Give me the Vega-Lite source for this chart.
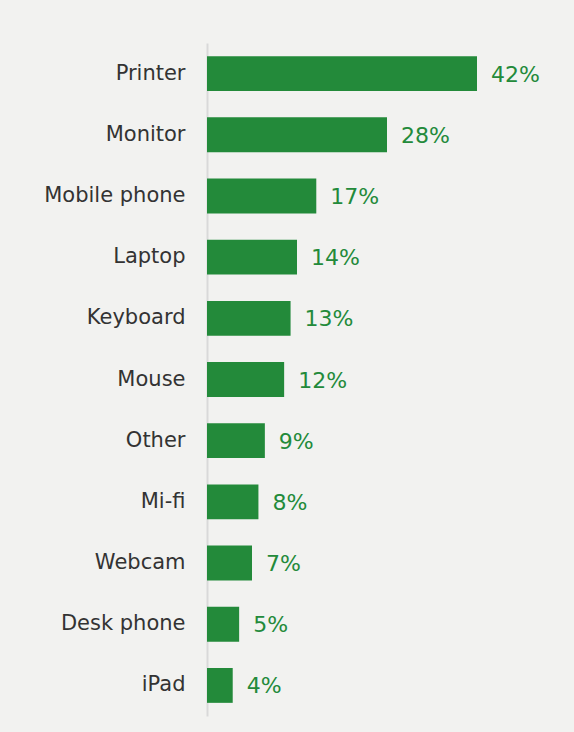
{
  "$schema": "https://vega.github.io/schema/vega-lite/v6.json",
  "autosize": {"type": "none"},
  "width": 360,
  "height": 673,
  "padding": {"left": 207, "top": 43, "right": 7, "bottom": 16},
  "background": "#f2f2f0",
  "config": {"view": {"stroke": null}},
  "data": {
    "values": [
      {"device": "Printer", "share": 0.42},
      {"device": "Monitor", "share": 0.28},
      {"device": "Mobile phone", "share": 0.17},
      {"device": "Laptop", "share": 0.14},
      {"device": "Keyboard", "share": 0.13},
      {"device": "Mouse", "share": 0.12},
      {"device": "Other", "share": 0.09},
      {"device": "Mi-fi", "share": 0.08},
      {"device": "Webcam", "share": 0.07},
      {"device": "Desk phone", "share": 0.05},
      {"device": "iPad", "share": 0.04}
    ]
  },
  "encoding": {
    "y": {
      "field": "device",
      "type": "nominal",
      "sort": null,
      "scale": {"paddingInner": 0.43, "paddingOuter": 0.215},
      "axis": {
        "title": null,
        "ticks": false,
        "domainColor": "#d9d9d9",
        "domainWidth": 2,
        "labelPadding": 22,
        "labelFont": "DejaVu Sans",
        "labelFontSize": 21,
        "labelColor": "#333333",
        "labelLimit": 300
      }
    },
    "x": {
      "field": "share",
      "type": "quantitative",
      "scale": {"domain": [0, 0.56]},
      "axis": null
    }
  },
  "layer": [
    {"mark": {"type": "bar", "color": "#238a3a"}},
    {
      "mark": {"type": "text", "align": "left", "baseline": "middle", "dx": 14, "dy": 1, "font": "DejaVu Sans", "fontSize": 22, "color": "#238a3a"},
      "encoding": {"text": {"field": "share", "type": "quantitative", "format": ".0%"}}
    }
  ]
}
